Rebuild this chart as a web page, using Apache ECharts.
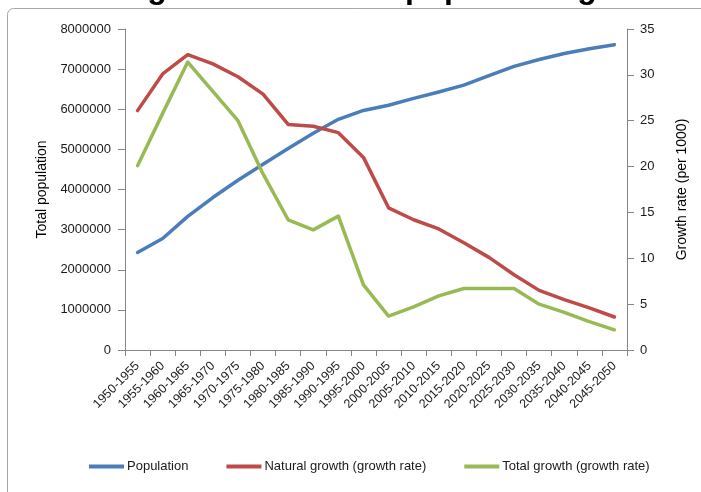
<!DOCTYPE html>
<html>
<head>
<meta charset="utf-8">
<script src="https://cdn.jsdelivr.net/npm/echarts@6/dist/echarts.min.js"></script>
<style>
  html, body { margin: 0; padding: 0; background: #ffffff; }
  #chart { width: 701px; height: 492px; }
</style>
</head>
<body>
<div id="chart"></div>
<script>
// Five-year periods
const periods = ['1950-1955', '1955-1960', '1960-1965', '1965-1970', '1970-1975',
  '1975-1980', '1980-1985', '1985-1990', '1990-1995', '1995-2000', '2000-2005',
  '2005-2010', '2010-2015', '2015-2020', '2020-2025', '2025-2030', '2030-2035',
  '2035-2040', '2040-2045', '2045-2050'];

// Total population (left axis)
const population = [2430000, 2780000, 3330000, 3800000, 4230000, 4630000, 5020000,
  5400000, 5750000, 5970000, 6100000, 6270000, 6430000, 6600000, 6840000,
  7070000, 7240000, 7390000, 7510000, 7610000];

// Natural growth rate per 1000 (right axis)
const naturalGrowth = [26.1, 30.1, 32.2, 31.2, 29.8, 27.9, 24.6, 24.4, 23.7, 21.0,
  15.5, 14.2, 13.2, 11.7, 10.1, 8.2, 6.5, 5.5, 4.6, 3.6];

// Total growth rate per 1000 (right axis)
const totalGrowth = [20.1, 25.8, 31.4, 28.2, 25.0, 19.2, 14.2, 13.1, 14.6, 7.1,
  3.7, 4.7, 5.9, 6.7, 6.7, 6.7, 5.0, 4.1, 3.1, 2.2];

const seriesNames = ['Population', 'Natural growth (growth rate)', 'Total growth (growth rate)'];
const chartTitle = 'Natural growth and total population growth';

const axisGrey = '#868686';
const textFont = '"Liberation Sans", Arial, sans-serif';

const chart = echarts.init(document.getElementById('chart'), null, { renderer: 'canvas' });

chart.setOption({
  backgroundColor: '#ffffff',
  animation: false,
  graphic: [
    {
      type: 'rect',
      shape: { x: 7.5, y: 8.5, width: 760, height: 540, r: 6 },
      style: { fill: 'none', stroke: '#a6a6a6', lineWidth: 1 },
      z: -1
    },
    {
      type: 'text',
      x: 356,
      y: 5,
      style: {
        text: chartTitle,
        font: 'bold 32px ' + textFont,
        fill: '#000000',
        align: 'center',
        verticalAlign: 'bottom'
      }
    }
  ],
  grid: { left: 125, right: 74, top: 29, bottom: 142, containLabel: false },
  legend: {
    data: seriesNames,
    left: 84,
    top: 455,
    icon: 'rect',
    itemWidth: 35,
    itemHeight: 4,
    itemGap: 38,
    textStyle: { fontFamily: textFont, fontSize: 13, color: '#1a1a1a', padding: [0, 0, 0, -2] }
  },
  xAxis: {
    type: 'category',
    data: periods,
    boundaryGap: true,
    axisLine: { lineStyle: { color: axisGrey, width: 1 } },
    axisTick: { show: true, length: 6, lineStyle: { color: axisGrey } },
    axisLabel: {
      rotate: 45,
      interval: 0,
      margin: 14,
      fontFamily: textFont,
      fontSize: 12.5,
      color: '#1a1a1a'
    },
    splitLine: { show: false }
  },
  yAxis: [
    {
      type: 'value',
      min: 0,
      max: 8000000,
      interval: 1000000,
      position: 'left',
      name: 'Total population',
      nameLocation: 'middle',
      nameRotate: 90,
      nameGap: 69,
      nameTextStyle: { fontFamily: textFont, fontSize: 14, color: '#000000' },
      axisLine: { show: true, lineStyle: { color: axisGrey, width: 1 } },
      axisTick: { show: true, length: 7, lineStyle: { color: axisGrey } },
      axisLabel: {
        margin: 14,
        fontFamily: textFont,
        fontSize: 13,
        color: '#1a1a1a',
        formatter: (v) => String(v)
      },
      splitLine: { show: false }
    },
    {
      type: 'value',
      min: 0,
      max: 35,
      interval: 5,
      position: 'right',
      name: 'Growth rate (per 1000)',
      nameLocation: 'middle',
      nameRotate: 90,
      nameGap: 48,
      nameTextStyle: { fontFamily: textFont, fontSize: 14, color: '#000000' },
      axisLine: { show: true, lineStyle: { color: axisGrey, width: 1 } },
      axisTick: { show: true, length: 7, lineStyle: { color: axisGrey } },
      axisLabel: { margin: 13, fontFamily: textFont, fontSize: 13, color: '#1a1a1a' },
      splitLine: { show: false }
    }
  ],
  series: [
    {
      name: seriesNames[0],
      type: 'line',
      yAxisIndex: 0,
      data: population,
      showSymbol: false,
      symbol: 'none',
      lineStyle: { color: '#4A7EBB', width: 3.5, cap: 'round', join: 'round' },
      itemStyle: { color: '#4A7EBB' }
    },
    {
      name: seriesNames[1],
      type: 'line',
      yAxisIndex: 1,
      data: naturalGrowth,
      showSymbol: false,
      symbol: 'none',
      lineStyle: { color: '#BE4B48', width: 3.5, cap: 'round', join: 'round' },
      itemStyle: { color: '#BE4B48' }
    },
    {
      name: seriesNames[2],
      type: 'line',
      yAxisIndex: 1,
      data: totalGrowth,
      showSymbol: false,
      symbol: 'none',
      lineStyle: { color: '#98B954', width: 3.5, cap: 'round', join: 'round' },
      itemStyle: { color: '#98B954' }
    }
  ]
});
</script>
</body>
</html>
